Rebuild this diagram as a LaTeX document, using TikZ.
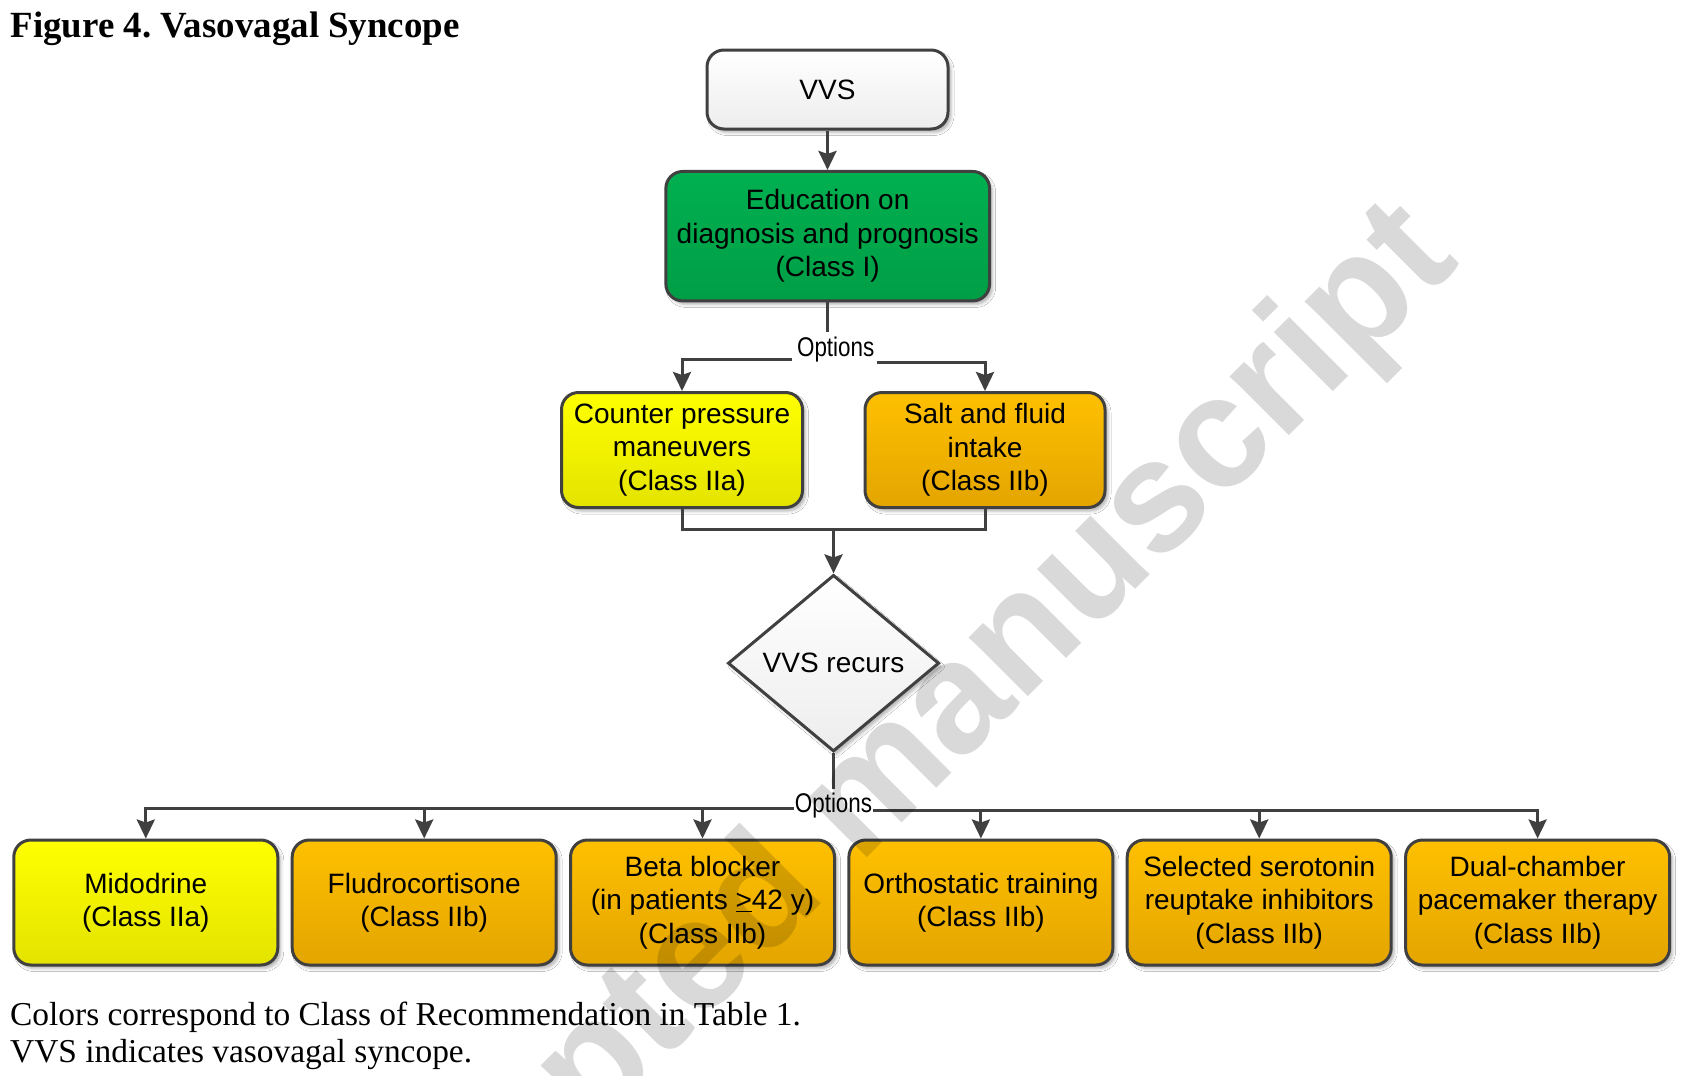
\documentclass[tikz,border=0pt]{standalone}
\usepackage{fontspec}
\setmainfont{Liberation Sans}
\newfontfamily\serifface{Liberation Serif}
\newfontfamily\narrowface[FakeStretch=0.83]{Liberation Sans}
\newfontfamily\wmface{Liberation Sans}
\usetikzlibrary{shapes.geometric,arrows.meta,shadows.blur}
\definecolor{edgegray}{HTML}{404040}
\definecolor{greentop}{HTML}{00B050}
\definecolor{greenbot}{HTML}{009E46}
\definecolor{yeltop}{HTML}{FFFF00}
\definecolor{yelbot}{HTML}{E3E300}
\definecolor{orgtop}{HTML}{FFC000}
\definecolor{orgbot}{HTML}{E3A500}
\definecolor{graytop}{HTML}{FFFFFF}
\definecolor{graybot}{HTML}{EDEDED}
\newcommand\bxfont{\fontsize{28}{33.5}\selectfont}
\frenchspacing
\begin{document}
\begin{tikzpicture}[x=1pt,y=-1pt,
  conn/.style={draw=edgegray, line width=3pt},
  arr/.style={-{Stealth[length=19pt,width=18pt,inset=3pt]}},
  box/.style={rectangle, rounded corners=17pt, draw=edgegray, line width=3pt,
    align=center, inner sep=0pt, font=\bxfont, text=black,
    blur shadow={shadow xshift=3pt, shadow yshift=-3.5pt, shadow blur radius=3pt, shadow opacity=30}},
  graybox/.style={box, top color=graytop, bottom color=graybot},
  greenbox/.style={box, top color=greentop, bottom color=greenbot},
  yelbox/.style={box, top color=yeltop, bottom color=yelbot},
  orgbox/.style={box, top color=orgtop, bottom color=orgbot},
  rowbox/.style={minimum width=264pt, minimum height=125pt},
  optlabel/.style={inner sep=0pt, font=\narrowface\fontsize{27}{30}\selectfont},
  ]
\useasboundingbox (0,0) rectangle (1681,1076);
\fill[white] (0,0) rectangle (1681,1076);

% title and caption
\node[anchor=base west, inner sep=0pt, font=\serifface\bfseries\fontsize{36.9}{40}\selectfont] (title) at (10.5,37) {Figure 4. Vasovagal Syncope};
\node[anchor=base west, inner sep=0pt, font=\serifface\fontsize{33.4}{37}\selectfont] (cap1) at (10,1025.5) {Colors correspond to Class of Recommendation in Table 1.};
\node[anchor=base west, inner sep=0pt, font=\serifface\fontsize{33.4}{37}\selectfont] (cap2) at (10,1062.5) {VVS indicates vasovagal syncope.};

% top part
\node[graybox, minimum width=241pt, minimum height=79pt] (vvs) at (827.5,89.5) {VVS};
\node[greenbox, minimum width=323.7pt, minimum height=129.5pt] (edu) at (827.7,236.2) {Education on\\diagnosis and prognosis\\(Class I)};
\node[yelbox, minimum width=241pt, minimum height=115pt] (counter) at (682,450) {Counter pressure\\maneuvers\\(Class IIa)};
\node[orgbox, minimum width=240pt, minimum height=115pt] (salt) at (985,450) {Salt and fluid\\intake\\(Class IIb)};
\node[graybox, diamond, rounded corners=0pt, aspect=1.2, minimum width=211.2pt, minimum height=176.6pt] (dia) at (833.5,663.2) {VVS recurs};

% bottom row
\node[yelbox, rowbox] (b1) at (145.8,902.5) {Midodrine\\(Class IIa)};
\node[orgbox, rowbox] (b2) at (424.2,902.5) {Fludrocortisone\\(Class IIb)};
\node[orgbox, rowbox] (b3) at (702.5,902.5) {Beta blocker\\(in patients \underline{>}42 y)\\(Class IIb)};
\node[orgbox, rowbox] (b4) at (980.9,902.5) {Orthostatic training\\(Class IIb)};
\node[orgbox, rowbox] (b5) at (1259.2,902.5) {Selected serotonin\\reuptake inhibitors\\(Class IIb)};
\node[orgbox, rowbox] (b6) at (1537.6,902.5) {Dual-chamber\\pacemaker therapy\\(Class IIb)};

% labels
\node[optlabel, anchor=base] (opt1) at (835.7,356.8) {Options};
\node[optlabel, anchor=base] (opt2) at (833.5,812.7) {Options};

% connectors
\draw[conn, arr] (vvs.south) -- (vvs.south |- edu.north);
\coordinate (j1) at (edu.south |- opt1.north);
\draw[conn] (edu.south) -- ([yshift=5pt]j1);
\draw[conn, arr] ([xshift=-5pt,yshift=-2.5pt]opt1.base west) -| (counter.north);
\draw[conn, arr] ([xshift=2pt,yshift=-5.5pt]opt1.base east) -| (salt.north);
\coordinate (merge) at (833.5,529.9);
\draw[conn] (counter.south) |- (merge) -| (salt.south);
\draw[conn, arr] (merge) -- (dia.north);
\coordinate (j2) at (dia.south |- opt2.north);
\draw[conn] (dia.south) -- ([yshift=4pt]j2);
\coordinate (L) at ([xshift=-1pt,yshift=4.7pt]opt2.base west);
\coordinate (R) at ([xshift=1pt,yshift=2.7pt]opt2.base east);
\draw[conn, arr] (L) -| (b1.north);
\draw[conn, arr] (b2.north |- L) -- (b2.north);
\draw[conn, arr] (b3.north |- L) -- (b3.north);
\draw[conn, arr] (R) -| (b6.north);
\draw[conn, arr] (b4.north |- R) -- (b4.north);
\draw[conn, arr] (b5.north |- R) -- (b5.north);

% watermark
\node[anchor=base east, rotate=45, inner sep=0pt, text=black, opacity=0.15,
  font=\wmface\bfseries\fontsize{158}{165}\selectfont] (wm) at (1462,263) {Accepted manuscript};
\end{tikzpicture}
\end{document}
